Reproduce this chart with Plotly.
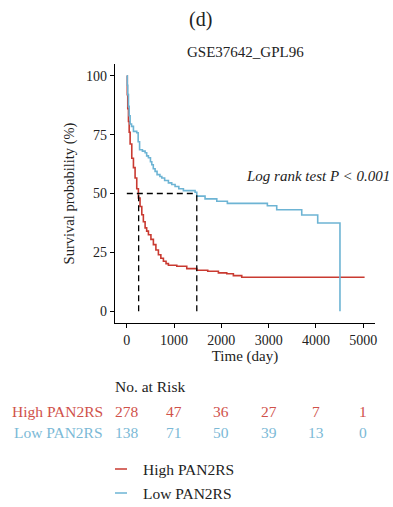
import plotly.graph_objects as go

# ---- data ----
high_time = [0, 10, 20, 35, 50, 70, 105, 140, 175, 210, 245, 280, 317, 350, 387, 420, 457, 510,
             562, 615, 668, 720, 774, 830, 880, 1057, 1268, 1480, 1712, 1937, 2114, 2254, 2431, 5030]
high_surv = [100, 92, 86, 80.6, 76, 71, 65, 61, 56.6, 52, 48.1, 44.5, 41, 38, 35.4, 34, 32.5, 30.5,
             28.3, 26, 24, 22.5, 21.2, 20.2, 19.5, 19.1, 18.1, 17.4, 17.0, 16.3, 15.9, 15.1, 14.4, 14.4]

low_time = [0, 10, 20, 35, 50, 70, 100, 140, 210, 240, 270, 330, 387, 420, 457, 500, 528, 560, 598,
            640, 700, 740, 800, 880, 950, 1021, 1100, 1197, 1444, 1480, 1655, 1903, 2127, 2973, 3171,
            3700, 4038, 4509]
low_surv = [100, 96, 92, 87, 83, 79.5, 78.5, 76.4, 75.8, 72, 68.6, 68, 67.3, 66, 65.2, 63.5, 62.2,
            60.5, 59.4, 58, 57.2, 56.6, 55.5, 54.5, 53.8, 53, 52, 51.2, 50.5, 48.9, 47.7, 46.7, 45.8,
            44.8, 43.1, 40.9, 37.5, 0]

median_high = 250
median_low = 1480

risk_times = [0, 1000, 2000, 3000, 4000, 5000]
risk_high = [278, 47, 36, 27, 7, 1]
risk_low = [138, 71, 50, 39, 13, 0]

groups = ["High PAN2RS", "Low PAN2RS"]
RED = "#C93A31"
BLUE = "#6DB4D4"
RED_T = "#D0514A"
BLUE_T = "#7BB9D6"
SERIF = "Liberation Serif, Times New Roman, serif"
TXT = "#222222"

fig = go.Figure()
fig.add_trace(go.Scatter(x=high_time, y=high_surv, mode="lines", line_shape="hv",
                         line=dict(color=RED, width=1.6), name=groups[0], showlegend=False))
fig.add_trace(go.Scatter(x=low_time, y=low_surv, mode="lines", line_shape="hv",
                         line=dict(color=BLUE, width=1.6), name=groups[1], showlegend=False))

# median dashed lines
dash = dict(color="black", width=1.3, dash="6px,4px")
fig.add_trace(go.Scatter(x=[0, median_low], y=[50, 50], mode="lines", line=dash, showlegend=False, hoverinfo="skip"))
fig.add_trace(go.Scatter(x=[median_high, median_high], y=[0, 50], mode="lines", line=dash, showlegend=False, hoverinfo="skip"))
fig.add_trace(go.Scatter(x=[median_low, median_low], y=[0, 50], mode="lines", line=dash, showlegend=False, hoverinfo="skip"))

fig.update_layout(
    width=393, height=507,
    margin=dict(l=115, r=18, t=64, b=184),
    paper_bgcolor="white", plot_bgcolor="white",
    font=dict(family=SERIF, color=TXT, size=13),
    showlegend=False,
)
fig.update_xaxes(range=[-250, 5250], tickvals=[0, 1000, 2000, 3000, 4000, 5000],
                 showline=True, linecolor="black", linewidth=1.2, ticks="outside", ticklen=4,
                 tickcolor="black", showgrid=False, zeroline=False,
                 tickfont=dict(size=14, family=SERIF, color=TXT),
                 title=dict(text="Time (day)", font=dict(size=15, family=SERIF, color=TXT), standoff=3))
fig.update_yaxes(range=[-5, 105], tickvals=[0, 25, 50, 75, 100],
                 showline=True, linecolor="black", linewidth=1.2, ticks="outside", ticklen=4,
                 tickcolor="black", showgrid=False, zeroline=False,
                 tickfont=dict(size=14, family=SERIF, color=TXT),
                 title=dict(text="Survival probability (%)", font=dict(size=14.5, family=SERIF, color=TXT), standoff=8))

ann = []
ann.append(dict(text="(d)", xref="paper", yref="paper", x=(200 - 115) / 260, y=(323 - 20) / 259,
                showarrow=False, font=dict(size=20, family=SERIF, color=TXT), xanchor="center", yanchor="middle"))
ann.append(dict(text="GSE37642_GPL96", xref="paper", yref="paper", x=0.5, y=(323 - 52) / 259,
                showarrow=False, font=dict(size=15, family=SERIF, color=TXT), xanchor="center", yanchor="middle"))
ann.append(dict(text="<i>Log rank test P < 0.001</i>", xref="paper", yref="paper", x=(318 - 115) / 260,
                y=(323 - 176) / 259, showarrow=False, font=dict(size=15, family=SERIF, color=TXT),
                xanchor="center", yanchor="middle"))

# risk table
ann.append(dict(text="No. at Risk", xref="paper", yref="paper", x=(113 - 115) / 260, y=(323 - 386) / 259,
                showarrow=False, font=dict(size=15.5, family=SERIF, color=TXT),
                xanchor="left", yanchor="middle"))
for label, vals, col, py in [(groups[0], risk_high, RED_T, 411), (groups[1], risk_low, BLUE_T, 432)]:
    ann.append(dict(text=label, xref="paper", yref="paper", x=(105 - 115) / 260, y=(323 - py) / 259,
                    showarrow=False, font=dict(size=15.5, family=SERIF, color=col),
                    xanchor="right", yanchor="middle"))
    for t, v in zip(risk_times, vals):
        ann.append(dict(text=str(v), xref="x", yref="paper", x=t, y=(323 - py) / 259,
                        showarrow=False, font=dict(size=15.5, family=SERIF, color=col),
                        xanchor="center", yanchor="middle"))

# legend (manual)
shapes = []
for label, col, py in [(groups[0], RED, 469), (groups[1], BLUE, 493)]:
    shapes.append(dict(type="line", xref="paper", yref="paper",
                       x0=(115 - 115) / 260, x1=(127 - 115) / 260,
                       y0=(323 - py) / 259, y1=(323 - py) / 259,
                       line=dict(color=col, width=1.5)))
    ann.append(dict(text=label, xref="paper", yref="paper", x=(141 - 115) / 260, y=(323 - py) / 259,
                    showarrow=False, font=dict(size=15.5, family=SERIF, color=TXT),
                    xanchor="left", yanchor="middle"))

fig.update_layout(annotations=ann, shapes=shapes)
fig.write_html("out.html")
